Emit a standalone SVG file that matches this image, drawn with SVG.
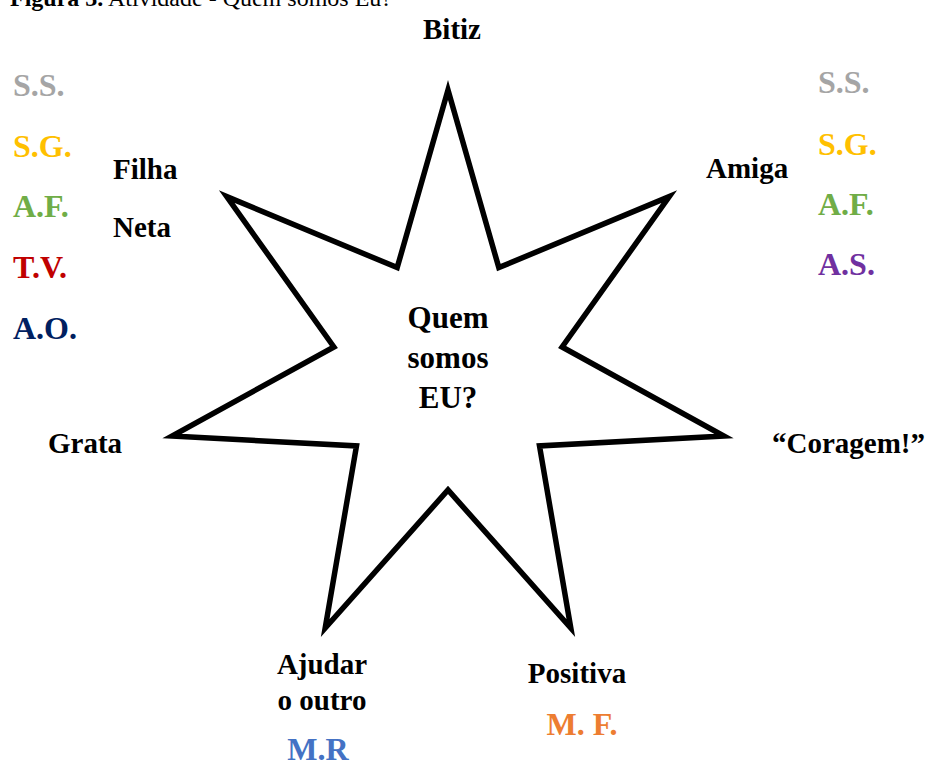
<svg xmlns="http://www.w3.org/2000/svg" width="926" height="763" viewBox="0 0 926 763">
<style>
text{font-family:"Liberation Serif","Times New Roman",serif;font-weight:bold;}
.lbl{font-size:29px;fill:#000;}
.ini{font-size:32px;}
.mid{text-anchor:middle;}
.cap{font-size:24px;fill:#000;}
.ss{fill:#A5A5A5}.sg{fill:#FFC000}.af{fill:#70AD47}.tv{fill:#C00000}.ao{fill:#002060}.as{fill:#7030A0}.mf{fill:#ED7D31}.mr{fill:#4472C4}
.star{fill:#fff;stroke:#000;stroke-width:5.5;stroke-linejoin:miter;stroke-miterlimit:20}
</style>
<rect width="926" height="763" fill="#fff"/>
<text class="cap" x="10" y="6">Figura 3.<tspan font-weight="normal"> Atividade - Quem somos Eu?</tspan></text>
<g id="star">
<polygon class="star" points="448,90 498.8,267.6 669.3,196.6 562.1,347 723.9,436 539.5,445.9 570.8,628 448,490 325.2,628 356.5,445.9 172.1,436 333.9,347 226.7,196.6 397.2,267.6"/>
<text class="mid" x="448" y="328" font-size="31">Quem</text>
<text class="mid" x="448" y="368" font-size="31">somos</text>
<text class="mid" x="448" y="408" font-size="31">EU?</text>
</g>
<g id="connectors"></g>
<g id="bitiz"><text class="lbl mid" x="452" y="39">Bitiz</text></g>
<g id="left-initials">
<text class="ini ss" x="13" y="96">S.S.</text>
<text class="ini sg" x="13" y="157">S.G.</text>
<text class="ini af" x="13" y="217">A.F.</text>
<text class="ini tv" x="13" y="278">T.V.</text>
<text class="ini ao" x="13" y="339">A.O.</text>
</g>
<g id="filha"><text class="lbl" x="113" y="179">Filha</text></g>
<g id="neta"><text class="lbl" x="113" y="237">Neta</text></g>
<g id="amiga"><text class="lbl" x="706" y="178">Amiga</text></g>
<g id="right-initials">
<text class="ini ss" x="818" y="93">S.S.</text>
<text class="ini sg" x="818" y="155">S.G.</text>
<text class="ini af" x="818" y="215">A.F.</text>
<text class="ini as" x="818" y="275">A.S.</text>
</g>
<g id="grata"><text class="lbl" x="48" y="453">Grata</text></g>
<g id="coragem"><text class="lbl" x="772" y="453">“Coragem!”</text></g>
<g id="ajudar">
<text class="lbl mid" x="322" y="674">Ajudar</text>
<text class="lbl mid" x="322" y="710">o outro</text>
<text class="ini mr mid" x="318" y="760">M.R</text>
</g>
<g id="positiva">
<text class="lbl mid" x="577" y="683">Positiva</text>
<text class="ini mf mid" x="582" y="735">M. F.</text>
</g>
</svg>
